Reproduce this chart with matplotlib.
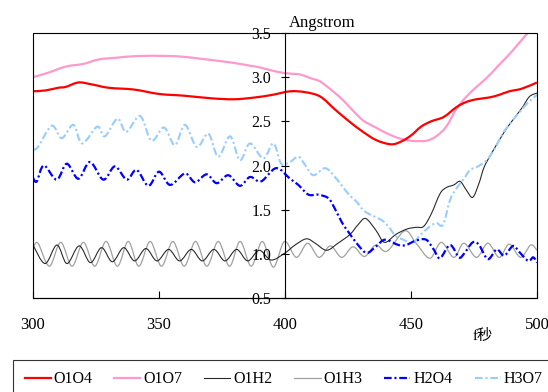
import numpy as np
import matplotlib
matplotlib.use('Agg')
import matplotlib.pyplot as plt
from matplotlib.path import Path
from matplotlib.patches import PathPatch, Rectangle
from matplotlib.lines import Line2D

plt.rcParams['font.family'] = ['Liberation Serif', 'Noto Sans CJK SC']
plt.rcParams['lines.scale_dashes'] = False

# --- data (time in fs, distance in Angstrom) ---
o1o4_x = [300, 305, 310, 313, 318, 323, 330, 340, 350, 360, 371, 380, 388, 395, 402, 408,
          414, 420, 425, 430, 436, 442, 446, 450, 454, 458, 463, 468, 472, 476, 481, 485,
          489, 494, 500]
o1o4_y = [2.84, 2.85, 2.88, 2.89, 2.94, 2.92, 2.88, 2.86, 2.81, 2.79, 2.76, 2.75, 2.77, 2.80,
          2.84, 2.83, 2.78, 2.63, 2.51, 2.40, 2.29, 2.24, 2.27, 2.34, 2.44, 2.50, 2.55, 2.66,
          2.72, 2.75, 2.77, 2.80, 2.84, 2.87, 2.94]

o1o7_x = [300, 306, 313, 320, 326, 333, 342, 353, 360, 366, 372, 380, 386, 390, 397, 402,
          406, 410, 414, 419, 423, 427, 431, 436, 440, 445, 450, 456, 460, 464, 468, 472,
          476, 480, 485, 490, 496, 500]
o1o7_y = [3.00, 3.05, 3.12, 3.15, 3.20, 3.22, 3.24, 3.24, 3.23, 3.21, 3.19, 3.16, 3.13, 3.11,
          3.06, 3.04, 3.03, 2.99, 2.95, 2.84, 2.74, 2.62, 2.51, 2.43, 2.37, 2.31, 2.28, 2.28,
          2.33, 2.44, 2.64, 2.78, 2.89, 2.99, 3.14, 3.29, 3.49, 3.60]

o1h2_x = [300, 304.8, 309.5, 313.5, 318.3, 322.8, 327.2, 331.5, 336, 340.3, 344.8, 349.2,
          353.8, 358.2, 362.8, 367.2, 371.8, 376.2, 380.8, 385.2, 389.8, 394.5, 400, 404,
          408.5, 412, 416.5, 421, 425.8, 429, 432, 436, 439.5, 444, 448.3, 452, 455, 458,
          461.5, 464, 467, 469.5, 472, 474.5, 477, 479, 482, 486.6, 490, 494, 497, 500]
o1h2_y = [1.10, 0.89, 1.10, 0.89, 1.09, 0.90, 1.07, 0.91, 1.07, 0.92, 1.06, 0.92, 1.05, 0.92,
          1.05, 0.92, 1.05, 0.92, 1.05, 0.92, 1.04, 0.93, 1.01, 1.10, 1.17, 1.12, 1.04, 1.12,
          1.22, 1.33, 1.40, 1.27, 1.13, 1.22, 1.28, 1.30, 1.31, 1.45, 1.68, 1.75, 1.78, 1.82,
          1.72, 1.64, 1.80, 1.98, 2.14, 2.36, 2.50, 2.65, 2.78, 2.82]

o1h3_x = [300, 302, 306.5, 311, 315.5, 320, 324.5, 329, 333.5, 337.8, 342, 346.5, 351,
          355.5, 360, 364.5, 369, 373.5, 378, 382.2, 386.6, 391, 395.4, 399.8, 404.5, 409,
          413.5, 418, 422.5, 427, 431.5, 436, 440.5, 447.5, 452, 457.5, 462, 467, 471, 476,
          480.5, 485, 489, 493.5, 497.5, 500]
o1h3_y = [1.07, 1.12, 0.86, 1.13, 0.86, 1.13, 0.86, 1.14, 0.86, 1.14, 0.86, 1.14, 0.86,
          1.14, 0.86, 1.14, 0.86, 1.14, 0.86, 1.14, 0.86, 1.14, 0.85, 1.14, 0.96, 1.12,
          0.96, 1.09, 0.96, 1.08, 0.97, 1.10, 1.03, 1.26, 1.12, 0.95, 1.13, 0.96, 1.12, 0.96,
          1.12, 0.96, 1.11, 0.96, 1.10, 1.04]

h2o4_x = [300, 301.5, 304.3, 309.4, 313.4, 318, 322.6, 327.9, 332.5, 337.2, 341.1, 345.8,
          350, 354.4, 360.3, 364.3, 368.9, 372.9, 377.5, 382.1, 386.1, 390.5, 396.5, 402,
          405.3, 409.3, 413, 417.2, 419.8, 422.5, 425.1, 429, 432.4, 436, 439.7, 445, 448,
          452, 456, 459, 461.5, 465.5, 469, 471, 474.5, 477, 480.5, 484, 487, 490.5, 493,
          496.5, 498.5, 500]
h2o4_y = [1.86, 1.82, 2.00, 1.84, 2.02, 1.85, 2.04, 1.84, 1.99, 1.84, 1.95, 1.77, 1.93,
          1.78, 1.91, 1.81, 1.90, 1.80, 1.89, 1.77, 1.87, 1.82, 1.97, 1.85, 1.78, 1.67, 1.67,
          1.63, 1.51, 1.36, 1.25, 1.10, 1.01, 1.08, 1.16, 1.10, 1.10, 1.15, 1.16, 1.05, 0.95,
          1.10, 0.96, 1.00, 1.13, 1.10, 0.94, 1.05, 0.98, 1.09, 1.02, 0.92, 0.96, 0.90]

h3o7_x = [300, 302, 307.4, 311.4, 316, 319.5, 325.5, 328.5, 333.5, 337, 342.5, 347, 352,
          356.3, 360.3, 365, 369.6, 373.5, 378.2, 382.1, 386.1, 391.4, 395.4, 398.5, 402,
          405.3, 407.9, 411.2, 415.9, 419.8, 425.1, 428.4, 431.7, 438.4, 441, 444, 447,
          450.5, 453.6, 457, 460, 462.7, 465.5, 468, 471, 473.4, 476, 480, 483, 486.6, 490,
          493, 496, 500]
h3o7_y = [2.18, 2.21, 2.45, 2.31, 2.46, 2.25, 2.44, 2.33, 2.53, 2.38, 2.56, 2.28, 2.43,
          2.23, 2.46, 2.21, 2.36, 2.10, 2.33, 2.06, 2.25, 2.08, 2.25, 2.02, 2.04, 2.10, 2.01,
          1.89, 1.97, 1.87, 1.68, 1.59, 1.48, 1.38, 1.31, 1.20, 1.16, 1.12, 1.21, 1.30, 1.35,
          1.33, 1.61, 1.74, 1.85, 1.95, 1.98, 2.06, 2.18, 2.37, 2.50, 2.60, 2.70, 2.80]

labels = ['O1O4', 'O1O7', 'O1H2', 'O1H3', 'H2O4', 'H3O7']
x_ticks = [300, 350, 400, 450, 500]
y_ticks = [0.5, 1.0, 1.5, 2.0, 2.5, 3.0, 3.5]

dashdot = (0, (5.5, 2.0, 1.5, 2.0))
styles = [
    dict(color='#ff0000', lw=1.6, ls='-'),
    dict(color='#ff99cc', lw=1.6, ls='-'),
    dict(color='#2a2a2a', lw=0.8, ls='-'),
    dict(color='#a0a0a0', lw=0.9, ls='-'),
    dict(color='#0000ff', lw=1.6, ls=dashdot),
    dict(color='#99ccff', lw=1.5, ls=dashdot),
]


# smoothed line like the spreadsheet's "smooth line" option
def smooth_path(xs, ys):
    pts = np.column_stack([xs, ys]).astype(float)
    n = len(pts)
    verts = [pts[0]]
    codes = [Path.MOVETO]
    for i in range(n - 1):
        p0 = pts[max(i - 1, 0)]
        p1 = pts[i]
        p2 = pts[i + 1]
        p3 = pts[min(i + 2, n - 1)]
        verts += [p1 + (p2 - p0) / 6, p2 - (p3 - p1) / 6, p2]
        codes += [Path.CURVE4] * 3
    return Path(verts, codes)


fig = plt.figure(figsize=(5.48, 3.92), dpi=100)
ax = fig.add_axes([33 / 548, 1 - 298 / 392, 504 / 548, 265 / 392])

series = [(o1o4_x, o1o4_y), (o1o7_x, o1o7_y), (o1h2_x, o1h2_y),
          (o1h3_x, o1h3_y), (h2o4_x, h2o4_y), (h3o7_x, h3o7_y)]
# draw order: thin curves below the thick ones
for idx in [3, 2, 5, 4, 1, 0]:
    xs, ys = series[idx]
    st = styles[idx]
    patch = PathPatch(smooth_path(xs, ys), fill=False, edgecolor=st['color'],
                      lw=st['lw'], linestyle=st['ls'], capstyle='butt')
    ax.add_patch(patch)

ax.set_xlim(300, 500)
ax.set_ylim(0.5, 3.5)

# y axis crosses at x = 400
ax.spines['left'].set_position(('data', 400))
ax.spines['top'].set_visible(False)
ax.spines['right'].set_visible(False)
for s in ['left', 'bottom']:
    ax.spines[s].set_linewidth(0.8)
ax.add_patch(Rectangle((0, 0), 1, 1, transform=ax.transAxes, fill=False,
                       lw=0.8, edgecolor='black', clip_on=False, zorder=3))

ax.set_xticks(x_ticks)
ax.set_xticklabels([str(v) for v in x_ticks])
ax.set_yticks(y_ticks)
ax.set_yticklabels(['%.1f' % v for v in y_ticks])
ax.tick_params(axis='x', direction='in', length=5, width=0.8, pad=14, labelsize=12)
ax.tick_params(axis='y', direction='inout', length=6, width=0.8, pad=7, labelsize=11.5)

ax.annotate('Angstrom', xy=(400, 3.5), xytext=(3, 1.5), textcoords='offset points',
            ha='left', va='bottom', fontsize=12)
fig.text(483 / 548, 1 - 336 / 392, 'f秒', ha='center', va='center', fontsize=11,
         family=['Liberation Serif', 'Noto Sans CJK SC'])

handles = [Line2D([], [], color=st['color'], lw=st['lw'], ls=st['ls']) for st in styles]
leg = fig.legend(handles, labels, loc='upper left', bbox_to_anchor=(13 / 548, 1 - 359.7 / 392),
                 ncol=6, fontsize=11.5, frameon=True, fancybox=False, borderaxespad=0,
                 handlelength=1.63, handletextpad=0.2, columnspacing=1.36, borderpad=0.72)
leg.get_frame().set_edgecolor('black')
leg.get_frame().set_linewidth(0.8)

fig.savefig('out.png', dpi=100)
